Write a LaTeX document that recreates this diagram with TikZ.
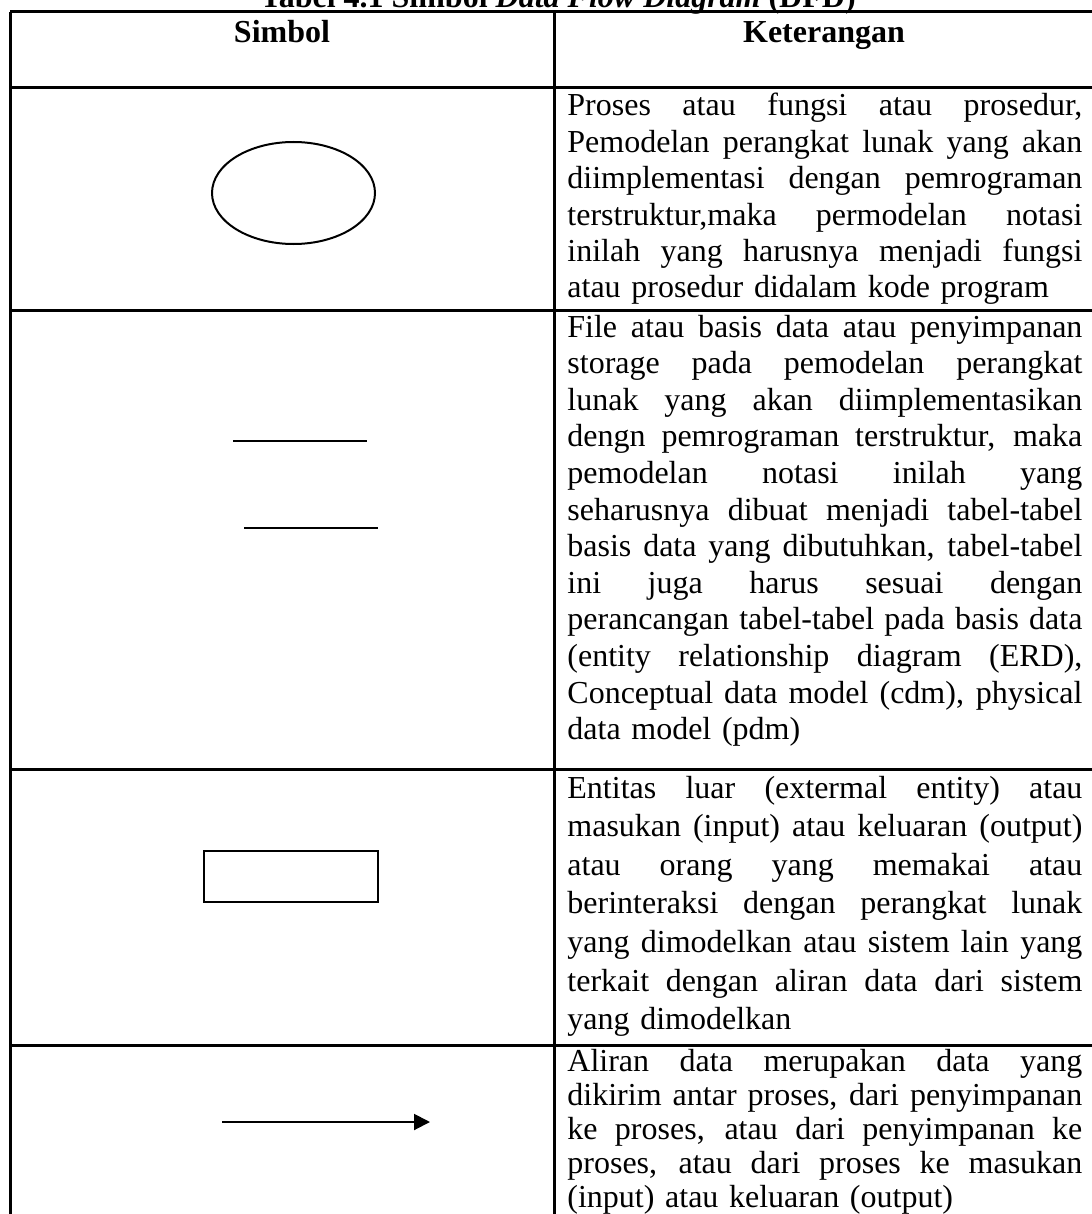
\documentclass[tikz,border=0pt]{standalone}
\usepackage{fontspec}
\setmainfont{Liberation Serif}
\usetikzlibrary{arrows.meta, positioning, shapes.geometric}
\newlength\colw
\setlength\colw{257.5pt}
\newcommand{\jl}[1]{\makebox[\colw][s]{\spaceskip=0pt\xspaceskip=0pt\relax #1}}
\tikzset{
	tabline/.style={line width=1.5pt, draw=black},
	symline/.style={line width=1.1pt, draw=black},
	captext/.style={anchor=base, inner sep=0pt, font=\fontsize{16pt}{18.4pt}\selectfont\bfseries},
	headtext/.style={anchor=base, inner sep=0pt, font=\fontsize{16pt}{18.4pt}\selectfont\bfseries},
	celltext/.style={anchor=base west, inner sep=0pt, align=left, text width=\colw, font=\fontsize{16pt}{#1}\selectfont},
	celltext/.default=18.4pt,
	procsym/.style={ellipse, draw=black, line width=1pt, minimum width=81.5pt, minimum height=51pt, inner sep=0pt},
	entsym/.style={rectangle, draw=black, line width=1pt, minimum width=87pt, minimum height=25.5pt, inner sep=0pt},
	flowarrow/.style={-{Triangle[length=8pt, width=8pt]}, line width=1pt, draw=black},
}

\begin{document}
\begin{tikzpicture}[x=0.5pt, y=-0.5pt]
	\useasboundingbox (0,0) rectangle (1091,1214);
	% table grid
	\draw[tabline] (10,12) -- (1094,12);
	\draw[tabline] (10,88) -- (1094,88);
	\draw[tabline] (10,310) -- (1094,310);
	\draw[tabline] (10,769) -- (1094,769);
	\draw[tabline] (10,1045) -- (1094,1045);
	\draw[tabline] (10,12) -- (10,1230);
	\draw[tabline] (554,12) -- (554,1230);
	\draw[tabline] (1094,12) -- (1094,1230);
	% caption and header
	\node[captext] (cap) at (558,8) {Tabel 4.1 Simbol \textit{Data Flow Diagram} (DFD)};
	\node[headtext] (hsym) at (282,43) {Simbol};
	\node[headtext] (hket) at (824,43) {Keterangan};
	% symbols
	\node[procsym] (proc) at (293.5,193) {};
	\coordinate (storeA1) at (233,441);
	\coordinate (storeA2) at (367,441);
	\coordinate (storeB1) at (244,528);
	\coordinate (storeB2) at (378,528);
	\draw[symline] (storeA1) -- (storeA2);
	\draw[symline] (storeB1) -- (storeB2);
	\node[entsym] (ent) at (291,876.5) {};
	\coordinate (flowstart) at (222,1122);
	\coordinate (flowend) at (430,1122);
	\draw[flowarrow] (flowstart) -- (flowend);
	% descriptions
	\node[celltext=18.2pt] (kproc) at (567,116) {\jl{Proses atau fungsi atau prosedur,}\\
		\jl{Pemodelan perangkat lunak yang akan}\\
		\jl{diimplementasi dengan pemrograman}\\
		\jl{terstruktur,maka permodelan notasi}\\
		\jl{inilah yang harusnya menjadi fungsi}\\
		atau prosedur didalam kode program};
	\node[celltext=18.3pt] (kstore) at (567,337) {\jl{File atau basis data atau penyimpanan}\\
		\jl{storage pada pemodelan perangkat}\\
		\jl{lunak yang akan diimplementasikan}\\
		\jl{dengn pemrograman terstruktur, maka}\\
		\jl{pemodelan notasi inilah yang}\\
		\jl{seharusnya dibuat menjadi tabel-tabel}\\
		\jl{basis data yang dibutuhkan, tabel-tabel}\\
		\jl{ini juga harus sesuai dengan}\\
		\jl{perancangan tabel-tabel pada basis data}\\
		\jl{(entity relationship diagram (ERD),}\\
		\jl{Conceptual data model (cdm), physical}\\
		data model (pdm)};
	\node[celltext=19.3pt] (kent) at (567,798) {\jl{Entitas luar (extermal entity) atau}\\
		\jl{masukan (input) atau keluaran (output)}\\
		\jl{atau orang yang memakai atau}\\
		\jl{berinteraksi dengan perangkat lunak}\\
		\jl{yang dimodelkan atau sistem lain yang}\\
		\jl{terkait dengan aliran data dari sistem}\\
		yang dimodelkan};
	\node[celltext=17pt] (kflow) at (567,1071) {\jl{Aliran data merupakan data yang}\\
		\jl{dikirim antar proses, dari penyimpanan}\\
		\jl{ke proses, atau dari penyimpanan ke}\\
		\jl{proses, atau dari proses ke masukan}\\
		(input) atau keluaran (output)};
\end{tikzpicture}
\end{document}
